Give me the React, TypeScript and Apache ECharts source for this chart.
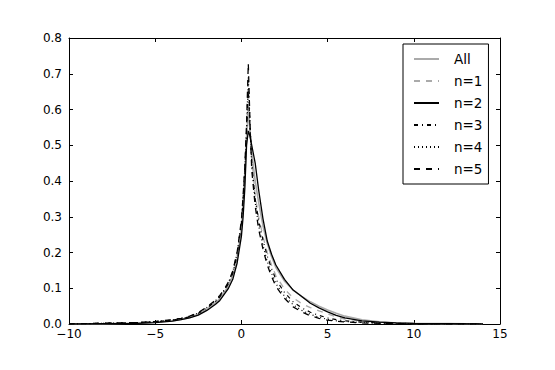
import React, { useEffect, useRef } from "react";
import * as echarts from "echarts";

const X = [-10, -8, -6, -5, -4, -3.5, -3, -2.5, -2, -1.5, -1.25, -1, -0.75, -0.5, -0.25, 0, 0.1, 0.2, 0.3, 0.4,
  0.5, 0.6, 0.8, 1, 1.25, 1.5, 1.75, 2, 2.5, 3, 3.5, 4, 4.5, 5, 5.5, 6, 7, 8, 9, 10, 12, 14];

const seriesNames = ["All", "n=1", "n=2", "n=3", "n=4", "n=5"];

const allVals = [0, 0.001, 0.003, 0.005, 0.009, 0.013, 0.018, 0.027, 0.041, 0.059, 0.071, 0.088, 0.108, 0.135, 0.18, 0.265, 0.33, 0.41, 0.52, 0.6,
  0.54, 0.48, 0.4, 0.34, 0.275, 0.225, 0.188, 0.158, 0.12, 0.095, 0.077, 0.062, 0.05, 0.039, 0.03, 0.022, 0.012, 0.006, 0.003, 0.002, 0.001, 0];
const n1Vals = [0, 0.002, 0.004, 0.006, 0.011, 0.015, 0.021, 0.031, 0.046, 0.064, 0.077, 0.094, 0.115, 0.145, 0.195, 0.28, 0.35, 0.43, 0.53, 0.62,
  0.54, 0.46, 0.36, 0.3, 0.245, 0.2, 0.165, 0.135, 0.098, 0.073, 0.057, 0.046, 0.037, 0.028, 0.02, 0.014, 0.008, 0.004, 0.002, 0.001, 0.001, 0];
const n2Vals = [0, 0.001, 0.002, 0.004, 0.008, 0.012, 0.017, 0.025, 0.038, 0.055, 0.066, 0.083, 0.1, 0.125, 0.17, 0.245, 0.3, 0.38, 0.5, 0.54,
  0.525, 0.5, 0.45, 0.375, 0.295, 0.232, 0.195, 0.165, 0.125, 0.095, 0.077, 0.058, 0.045, 0.034, 0.024, 0.017, 0.009, 0.005, 0.003, 0.002, 0.001, 0];
const n3Vals = [0, 0.002, 0.004, 0.006, 0.011, 0.015, 0.02, 0.03, 0.045, 0.063, 0.076, 0.093, 0.113, 0.142, 0.192, 0.28, 0.35, 0.43, 0.54, 0.66,
  0.55, 0.45, 0.35, 0.29, 0.235, 0.19, 0.155, 0.125, 0.088, 0.062, 0.045, 0.033, 0.024, 0.017, 0.012, 0.009, 0.005, 0.003, 0.002, 0.001, 0, 0];
const n4Vals = [0, 0.002, 0.004, 0.007, 0.011, 0.015, 0.021, 0.031, 0.046, 0.065, 0.078, 0.095, 0.116, 0.146, 0.198, 0.285, 0.355, 0.435, 0.55, 0.69,
  0.56, 0.44, 0.34, 0.275, 0.22, 0.175, 0.142, 0.113, 0.078, 0.054, 0.038, 0.027, 0.019, 0.013, 0.009, 0.007, 0.004, 0.002, 0.001, 0.001, 0, 0];
const n5Vals = [0, 0.002, 0.004, 0.007, 0.012, 0.016, 0.022, 0.032, 0.048, 0.067, 0.08, 0.097, 0.118, 0.148, 0.2, 0.29, 0.36, 0.44, 0.56, 0.73,
  0.56, 0.43, 0.33, 0.265, 0.21, 0.165, 0.133, 0.105, 0.072, 0.048, 0.034, 0.023, 0.016, 0.011, 0.008, 0.006, 0.003, 0.002, 0.001, 0.001, 0, 0];

const xTickLabels: Record<string, string> = { "-10": "\u221210", "-5": "\u22125", "0": "0", "5": "5", "10": "10", "15": "15" };

const FONT = "DejaVu Sans";

export default function App() {
  const ref = useRef<HTMLDivElement>(null);
  useEffect(() => {
    if (!ref.current) return;
    const chart = echarts.init(ref.current, null, { renderer: "svg" });
    const valueSets = [allVals, n1Vals, n2Vals, n3Vals, n4Vals, n5Vals];
    const styles = [
      { color: "#aaaaaa", width: 1.6, type: "solid" as any },
      { color: "#aaaaaa", width: 1.3, type: [6, 6] as any },
      { color: "#000000", width: 1.3, type: "solid" as any },
      { color: "#000000", width: 1.2, type: [4, 4, 1, 4] as any },
      { color: "#000000", width: 1.2, type: [1, 3] as any },
      { color: "#000000", width: 1.3, type: [6, 6] as any },
    ];
    const axisCommon = {
      axisLine: { show: true, onZero: false, lineStyle: { color: "#000", width: 1 } },
      axisTick: { show: true, inside: true, length: 4, lineStyle: { color: "#000", width: 1 } },
      splitLine: { show: false },
    };
    chart.setOption({
      animation: false,
      backgroundColor: "#ffffff",
      grid: { left: 69, right: 55, top: 38, bottom: 46, containLabel: false },
      legend: {
        orient: "vertical",
        left: 403,
        top: 44,
        padding: [8, 6, 8, 10],
        itemWidth: 25,
        itemHeight: 14,
        itemGap: 8,
        borderColor: "#000",
        borderWidth: 1,
        backgroundColor: "#fff",
        data: seriesNames,
        itemStyle: { opacity: 0, borderWidth: 0 },
        textStyle: { fontFamily: FONT, fontSize: 13.5, color: "#000", padding: [0, 0, 0, 10] },
      },
      xAxis: [
        {
          type: "value", min: -10, max: 15, interval: 5, position: "bottom",
          ...axisCommon,
          axisLabel: { fontFamily: FONT, fontSize: 12, color: "#000", margin: 4, formatter: (v: number) => xTickLabels[String(v)] ?? String(v) },
        },
        {
          type: "value", min: -10, max: 15, interval: 5, position: "top",
          ...axisCommon,
          axisLabel: { show: false },
        },
      ],
      yAxis: [
        {
          type: "value", min: 0, max: 0.8, interval: 0.1, position: "left",
          ...axisCommon,
          axisLabel: { fontFamily: FONT, fontSize: 12, color: "#000", margin: 7, formatter: (v: number) => v.toFixed(1) },
        },
        {
          type: "value", min: 0, max: 0.8, interval: 0.1, position: "right",
          ...axisCommon,
          axisLabel: { show: false },
        },
      ],
      series: seriesNames.map((name, i) => ({
        name,
        type: "line",
        xAxisIndex: 0,
        yAxisIndex: 0,
        showSymbol: false,
        symbol: "none",
        smooth: false,
        lineStyle: styles[i],
        itemStyle: { color: styles[i].color },
        data: X.map((x, j) => [x, valueSets[i][j]]),
      })),
    });
    return () => chart.dispose();
  }, []);
  return <div ref={ref} style={{ position: "fixed", left: 0, top: 0, width: 555, height: 370 }} />;
}
